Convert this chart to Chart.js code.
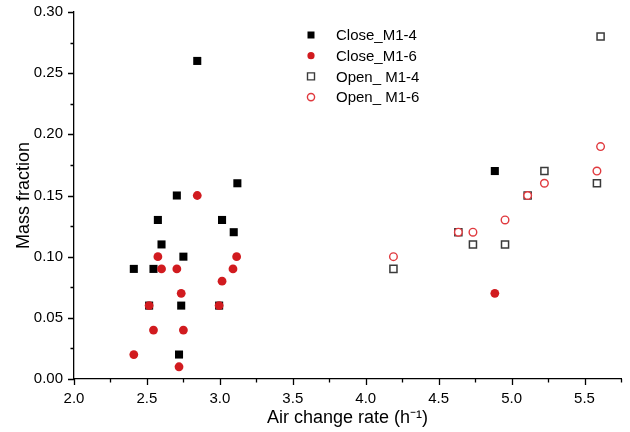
<!DOCTYPE html>
<html>
<head>
<meta charset="utf-8">
<script src="https://cdn.jsdelivr.net/npm/chart.js@4.4.1/dist/chart.umd.min.js"></script>
<style>
  html, body { margin: 0; padding: 0; background: #fff; }
  #wrap { width: 630px; height: 432px; }
</style>
</head>
<body>
<div id="wrap"><canvas id="massChart" width="630" height="432"></canvas></div>
<script>
/* DATA */
const seriesNames = ["Close_M1-4", "Close_M1-6", "Open_ M1-4", "Open_ M1-6"];

const closeM14X = [2.41, 2.515, 2.545, 2.575, 2.6, 2.705, 2.72, 2.735, 2.75, 2.845, 2.995, 3.015, 3.095, 3.12, 4.885];
const closeM14Y = [0.09, 0.06, 0.09, 0.13, 0.11, 0.15, 0.02, 0.06, 0.10, 0.26, 0.06, 0.13, 0.12, 0.16, 0.17];

const closeM16X = [2.41, 2.515, 2.545, 2.575, 2.6, 2.705, 2.72, 2.735, 2.75, 2.845, 2.995, 3.015, 3.09, 3.115, 4.885];
const closeM16Y = [0.02, 0.06, 0.04, 0.10, 0.09, 0.09, 0.01, 0.07, 0.04, 0.15, 0.06, 0.08, 0.09, 0.10, 0.07];

const openM14X = [4.19, 4.635, 4.735, 4.955, 5.11, 5.225, 5.585, 5.61];
const openM14Y = [0.09, 0.12, 0.11, 0.11, 0.15, 0.17, 0.16, 0.28];

const openM16X = [4.19, 4.635, 4.735, 4.955, 5.11, 5.225, 5.585, 5.61];
const openM16Y = [0.10, 0.12, 0.12, 0.13, 0.15, 0.16, 0.17, 0.19];

const xTicks = [2.0, 2.5, 3.0, 3.5, 4.0, 4.5, 5.0, 5.5];
const yTicks = [0.00, 0.05, 0.10, 0.15, 0.20, 0.25, 0.30];
const xRange = [2.0, 5.75];
const yRange = [0.0, 0.30];

const pts = (xs, ys) => xs.map((x, i) => ({ x: x, y: ys[i] }));

/* STYLES */
const RED = "#d11b1f";
const RED_OPEN = "#e0393e";
const FONT = "'Liberation Sans', Arial, sans-serif";

/* minor/major ticks drawn outside the plot */
const axisTicks = {
    id: "axisTicks",
    afterDraw(chart) {
        const { ctx, chartArea: a, scales: { x, y } } = chart;
        ctx.save();
        ctx.strokeStyle = "#000";
        ctx.lineWidth = 1.3;
        ctx.beginPath();
        const xs = [];
        xTicks.forEach(v => { xs.push([v, 6]); xs.push([v + 0.25, 3.5]); });
        xs.forEach(([v, len]) => {
            if (v > xRange[1] + 1e-9) return;
            const px = Math.round(x.getPixelForValue(v)) + 0.5;
            ctx.moveTo(px, a.bottom);
            ctx.lineTo(px, a.bottom + len);
        });
        yTicks.forEach((v, i) => {
            const py = Math.round(y.getPixelForValue(v)) + 0.5;
            ctx.moveTo(a.left, py);
            ctx.lineTo(a.left - 6, py);
            if (i < yTicks.length - 1) {
                const pm = Math.round(y.getPixelForValue(v + 0.025)) + 0.5;
                ctx.moveTo(a.left, pm);
                ctx.lineTo(a.left - 3.5, pm);
            }
        });
        ctx.stroke();
        ctx.restore();
    }
};

/* legend inside the plot area */
const insideLegend = {
    id: "insideLegend",
    afterDraw(chart) {
        const ctx = chart.ctx;
        const x0 = 311, y0 = 35, step = 20.7;
        ctx.save();
        ctx.font = "15px " + FONT;
        ctx.textBaseline = "middle";
        ctx.textAlign = "left";
        chart.data.datasets.forEach((ds, i) => {
            const cy = y0 + i * step;
            ctx.beginPath();
            if (ds.pointStyle === "rect") {
                ctx.rect(x0 - 3.5, cy - 3.5, 7, 7);
            } else {
                ctx.arc(x0, cy, 3.6, 0, Math.PI * 2);
            }
            if (ds.pointBackgroundColor !== "#fff") {
                ctx.fillStyle = ds.pointBackgroundColor;
                ctx.fill();
            } else {
                ctx.fillStyle = "#fff";
                ctx.fill();
                ctx.lineWidth = 1.4;
                ctx.strokeStyle = ds.pointBorderColor;
                ctx.stroke();
            }
            ctx.fillStyle = "#000";
            ctx.fillText(ds.label, 336, cy + 1);
        });
        ctx.restore();
    }
};

const ctx = document.getElementById("massChart");
new Chart(ctx, {
    type: "scatter",
    data: {
        datasets: [
            {
                label: seriesNames[0],
                data: pts(closeM14X, closeM14Y),
                pointStyle: "rect",
                pointRadius: 5.7,
                pointBackgroundColor: "#000",
                pointBorderColor: "#000",
                pointBorderWidth: 0,
                order: 2
            },
            {
                label: seriesNames[1],
                data: pts(closeM16X, closeM16Y),
                pointStyle: "circle",
                pointRadius: 4.4,
                pointBackgroundColor: RED,
                pointBorderColor: RED,
                pointBorderWidth: 0,
                order: 1
            },
            {
                label: seriesNames[2],
                data: pts(openM14X, openM14Y),
                pointStyle: "rect",
                pointRadius: 5.0,
                pointBackgroundColor: "#fff",
                pointBorderColor: "#3a3a3a",
                pointBorderWidth: 1.5,
                order: 4
            },
            {
                label: seriesNames[3],
                data: pts(openM16X, openM16Y),
                pointStyle: "circle",
                pointRadius: 3.8,
                pointBackgroundColor: "#fff",
                pointBorderColor: RED_OPEN,
                pointBorderWidth: 1.4,
                order: 3
            }
        ]
    },
    options: {
        responsive: false,
        animation: false,
        layout: { padding: { top: 12, right: 9, left: 0, bottom: 0 } },
        plugins: {
            legend: { display: false },
            tooltip: { enabled: false }
        },
        scales: {
            x: {
                type: "linear",
                min: xRange[0],
                max: xRange[1],
                afterBuildTicks: s => { s.ticks = xTicks.map(v => ({ value: v })); },
                afterFit: s => { s.height = 53; s.paddingLeft = 0; s.paddingRight = 0; },
                grid: { display: false, drawTicks: false },
                border: { display: true, color: "#000", width: 1.3 },
                ticks: {
                    padding: 11,
                    color: "#000",
                    font: { family: FONT, size: 15 },
                    callback: v => Number(v).toFixed(1)
                },
                title: {
                    display: true,
                    text: "Air change rate (h\u207B\u00B9)",
                    color: "#000",
                    font: { family: FONT, size: 18 },
                    padding: { top: 0, bottom: 3 }
                }
            },
            y: {
                type: "linear",
                min: yRange[0],
                max: yRange[1],
                afterBuildTicks: s => { s.ticks = yTicks.map(v => ({ value: v })); },
                afterFit: s => { s.width = 74; s.paddingTop = 0; s.paddingBottom = 0; },
                grid: { display: false, drawTicks: false },
                border: { display: true, color: "#000", width: 1.3 },
                ticks: {
                    padding: 11,
                    color: "#000",
                    font: { family: FONT, size: 15 },
                    callback: v => Number(v).toFixed(2)
                },
                title: {
                    display: true,
                    text: "Mass fraction",
                    color: "#000",
                    font: { family: FONT, size: 18 },
                    padding: { top: 13, bottom: 0 }
                }
            }
        }
    },
    plugins: [axisTicks, insideLegend]
});
</script>
</body>
</html>
